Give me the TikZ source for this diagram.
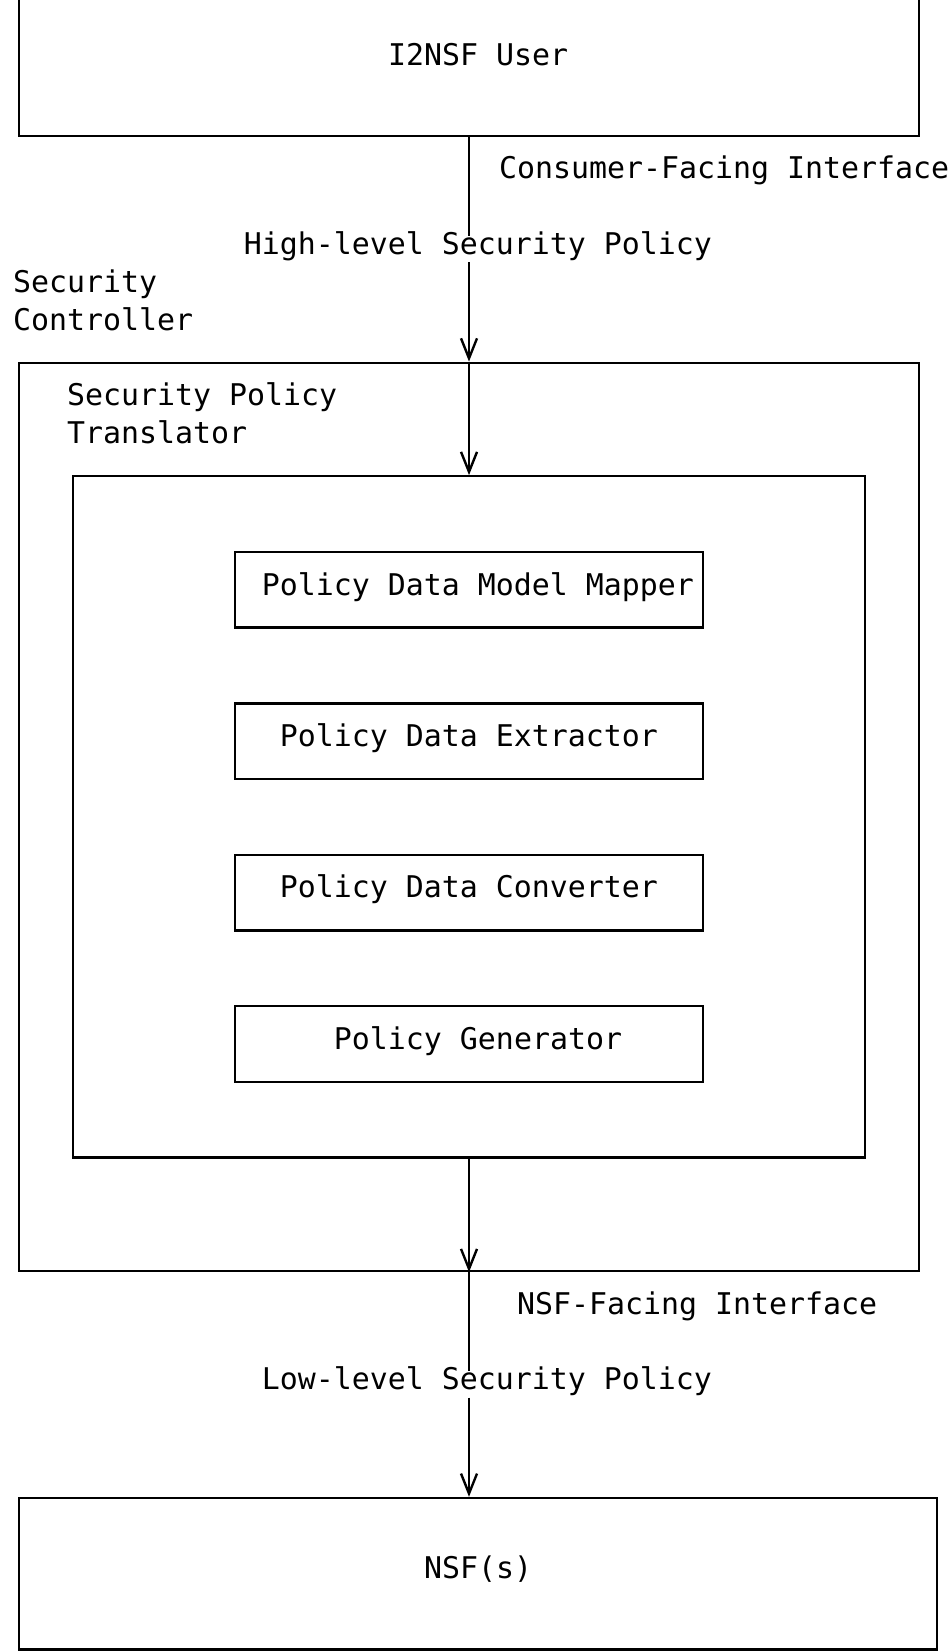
\documentclass[tikz,border=0pt]{standalone}
\usepackage{fontspec}
\setmainfont{DejaVu Sans Mono}
\usetikzlibrary{arrows.meta}

\begin{document}
\begin{tikzpicture}[x=9pt, y=-18.92pt, line width=1.2pt,
    >={Straight Barb[length=10pt,width=8pt]},
    font=\fontsize{14.95}{18.92}\selectfont,
    box/.style={draw, inner sep=0pt, text height=.76em, text depth=.24em},
    lbl/.style={inner sep=1pt, text height=.76em, text depth=.24em}]
    \useasboundingbox (-1.0556,-0.5867) rectangle (51.722,43.07);
    \clip (-1.0556,-0.5867) rectangle (51.722,43.07);

    % outer boxes
    \node[box, minimum width=450pt, minimum height=75.68pt] (user) at (25,1) {\hspace{9pt}I2NSF User};
    \node[box, minimum width=450pt, minimum height=454.08pt] (ctrl) at (25,21) {};
    \node[box, minimum width=396pt, minimum height=340.56pt] (trans) at (25,21) {};
    \node[box, minimum width=459pt, minimum height=75.68pt] (nsf) at (25.5,41) {NSF(s)};

    % translator parts
    \node[box, minimum width=234pt, minimum height=37.84pt] (mapper) at (25,15) {\hspace{9pt}Policy Data Model Mapper};
    \node[box, minimum width=234pt, minimum height=37.84pt] (extract) at (25,19) {Policy Data Extractor};
    \node[box, minimum width=234pt, minimum height=37.84pt] (convert) at (25,23) {Policy Data Converter};
    \node[box, minimum width=234pt, minimum height=37.84pt] (gen) at (25,27) {\hspace{9pt}Policy Generator};

    % labels
    \node[lbl, anchor=west] (cfi) at (26.5,4) {Consumer-Facing Interface};
    \node[lbl] (hlp) at (25.5,6) {High-level Security Policy};
    \node[lbl, anchor=west] (sc1) at (-0.5,7) {Security};
    \node[lbl, anchor=west] (sc2) at (-0.5,8) {Controller};
    \node[lbl, anchor=west] (spt1) at (2.5,10) {Security Policy};
    \node[lbl, anchor=west] (spt2) at (2.5,11) {Translator};
    \node[lbl, anchor=west] (nfi) at (27.5,34) {NSF-Facing Interface};
    \node[lbl] (llp) at (26,36) {Low-level Security Policy};

    % connectors
    \draw (user.south) -- (user.south |- hlp.north);
    \draw[->] (user.south |- hlp.south) -- (ctrl.north);
    \draw[->] (ctrl.north) -- (trans.north);
    \draw[->] (trans.south) -- (ctrl.south);
    \draw (ctrl.south) -- (ctrl.south |- llp.north);
    \draw[->] (ctrl.south |- llp.south) -- (ctrl.south |- nsf.north);
\end{tikzpicture}
\end{document}
